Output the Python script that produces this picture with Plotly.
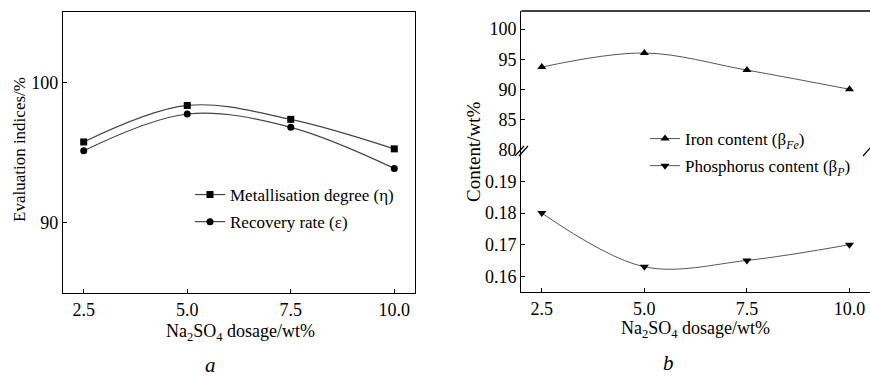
import plotly.graph_objects as go

# ---- data ----
dosage = [2.5, 5.0, 7.5, 10.0]
metallisation = [95.75, 98.35, 97.36, 95.26]
recovery = [95.12, 97.74, 96.79, 93.87]
iron = [93.72, 96.05, 93.22, 90.05]
phosphorus = [0.180, 0.163, 0.165, 0.170]
x_ticks = [2.5, 5.0, 7.5, 10.0]
x_ticktext = ["2.5", "5.0", "7.5", "10.0"]

W, H = 870, 376
FONT = "Liberation Serif"
LINE = "#555555"

def px(x):
    return x / W

def py(y):
    return 1 - y / H

fig = go.Figure()

fig.add_trace(go.Scatter(x=dosage, y=metallisation, mode="lines+markers",
                         name="Metallisation degree (η)", line=dict(color="#444444", width=1.2, shape="spline"),
                         marker=dict(symbol="square", size=7, color="black"),
                         xaxis="x", yaxis="y", legend="legend", legendgroup="a1"))
fig.add_trace(go.Scatter(x=dosage, y=recovery, mode="lines+markers",
                         name="Recovery rate (ε)", line=dict(color="#444444", width=1.2, shape="spline"),
                         marker=dict(symbol="circle", size=7, color="black"),
                         xaxis="x", yaxis="y", legend="legend", legendgroup="a2"))
fig.add_trace(go.Scatter(x=dosage, y=iron, mode="lines+markers",
                         name="Iron content (β<sub><i>Fe</i></sub>)", line=dict(color=LINE, width=1, shape="spline"),
                         marker=dict(symbol="triangle-up", size=8, color="black"),
                         xaxis="x2", yaxis="y3", legend="legend2", legendgroup="b1"))
fig.add_trace(go.Scatter(x=dosage, y=phosphorus, mode="lines+markers",
                         name="Phosphorus content (β<sub><i>P</i></sub>)", line=dict(color=LINE, width=1, shape="spline"),
                         marker=dict(symbol="triangle-down", size=8, color="black"),
                         xaxis="x2", yaxis="y2", legend="legend2", legendgroup="b2"))

axis_common = dict(showline=True, linecolor="black", linewidth=1.3, ticks="inside", ticklen=4,
                   tickcolor="black", showgrid=False, zeroline=False, automargin=False,
                   tickfont=dict(family=FONT, size=18, color="black"))

fig.update_layout(
    template="none",
    width=W, height=H, margin=dict(l=0, r=0, t=0, b=0, pad=0, autoexpand=False),
    paper_bgcolor="white", plot_bgcolor="white",
    font=dict(family=FONT, size=17, color="black"),
    xaxis=dict(domain=[px(63), px(415)], range=[2.0, 10.5], tickvals=x_ticks, ticktext=x_ticktext,
               anchor="y", mirror=True, **axis_common),
    yaxis=dict(domain=[py(293), py(12)], range=[85, 105], tickvals=[90, 100],
               anchor="x", mirror=True, **axis_common),
    xaxis2=dict(domain=[px(521.3), 1.0], range=[2.0, 10.5], tickvals=x_ticks, ticktext=x_ticktext,
                anchor="y2", **axis_common),
    yaxis2=dict(domain=[py(292), py(150)], range=[0.155, 0.2], tickvals=[0.16, 0.17, 0.18, 0.19],
                tickformat=".2f", anchor="x2", **axis_common),
    yaxis3=dict(domain=[py(150), py(11)], range=[80, 103], tickvals=[80, 85, 90, 95, 100],
                anchor="x2", **axis_common),
    legend=dict(x=px(190), y=py(177), xanchor="left", yanchor="top", bgcolor="rgba(0,0,0,0)",
                font=dict(family=FONT, size=17), tracegroupgap=2, traceorder="grouped",
                itemwidth=30, borderwidth=0),
    legend2=dict(x=px(645), y=py(121), xanchor="left", yanchor="top", bgcolor="rgba(0,0,0,0)",
                 font=dict(family=FONT, size=17), tracegroupgap=2, traceorder="grouped",
                 itemwidth=30, borderwidth=0),
    showlegend=True,
)

# top border of right panel and axis-break marks
shapes = [
    dict(type="line", xref="paper", yref="paper", x0=px(521.3), x1=1.0, y0=py(11), y1=py(11),
         line=dict(color="black", width=1.3)),
    dict(type="line", xref="paper", yref="paper", x0=px(515), x1=px(524), y0=py(156), y1=py(146),
         line=dict(color="black", width=1.2)),
    dict(type="line", xref="paper", yref="paper", x0=px(519), x1=px(528), y0=py(156), y1=py(146),
         line=dict(color="black", width=1.2)),
    dict(type="line", xref="paper", yref="paper", x0=px(863), x1=px(871), y0=py(156), y1=py(147),
         line=dict(color="black", width=1.2)),
]
fig.update_layout(shapes=shapes)

ann_common = dict(showarrow=False, xref="paper", yref="paper", xanchor="center", yanchor="middle")
annotations = [
    dict(text="Evaluation indices/%", x=px(19), y=py(150), textangle=-90,
         font=dict(family=FONT, size=17), **ann_common),
    dict(text="Na<sub>2</sub>SO<sub>4</sub> dosage/wt%", x=px(240), y=py(332),
         font=dict(family=FONT, size=18), **ann_common),
    dict(text="Content/wt%", x=px(473), y=py(152), textangle=-90,
         font=dict(family=FONT, size=19), **ann_common),
    dict(text="Na<sub>2</sub>SO<sub>4</sub> dosage/wt%", x=px(695), y=py(329),
         font=dict(family=FONT, size=18), **ann_common),
    dict(text="<i>a</i>", x=px(210), y=py(365),
         font=dict(family=FONT, size=21), **ann_common),
    dict(text="<i>b</i>", x=px(668), y=py(363),
         font=dict(family=FONT, size=21), **ann_common),
]
fig.update_layout(annotations=annotations)

fig.write_html("out.html")
